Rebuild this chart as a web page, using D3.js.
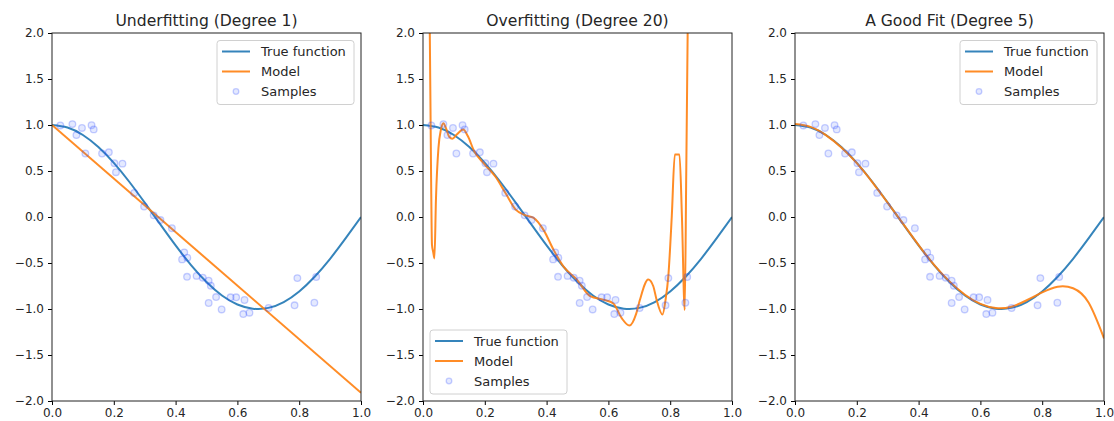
<!DOCTYPE html>
<html>
<head>
<meta charset="utf-8">
<script src="https://cdnjs.cloudflare.com/ajax/libs/d3/7.8.5/d3.min.js"></script>
<style>
  body { margin: 0; background: #fff; }
  svg { font-family: "DejaVu Sans", sans-serif; }
</style>
</head>
<body>
<svg id="chart" width="1114" height="421"></svg>
<script>
// ---- data ----
var titles = ["Underfitting (Degree 1)", "Overfitting (Degree 20)", "A Good Fit (Degree 5)"]
var xTicks = [0, 0.2, 0.4, 0.6, 0.8, 1.0]
var yTicks = [-2, -1.5, -1, -0.5, 0, 0.5, 1, 1.5, 2]

var trueX = [0, 0.05, 0.1, 0.15, 0.2, 0.25, 0.3, 0.35, 0.4, 0.45, 0.5, 0.55, 0.6, 0.65, 0.7, 0.75, 0.8, 0.85, 0.9, 0.95, 1.0]
var trueY = [1.0, 0.972, 0.891, 0.76, 0.588, 0.383, 0.156, -0.078, -0.309, -0.522, -0.707, -0.853, -0.951, -0.996, -0.988, -0.924, -0.809, -0.649, -0.454, -0.233, 0.0]

var sampleX = [0.027, 0.066, 0.079, 0.097, 0.108, 0.128, 0.135, 0.162, 0.184, 0.202, 0.207, 0.228, 0.266, 0.298, 0.329,
               0.351, 0.388, 0.428, 0.421, 0.438, 0.437, 0.468, 0.488, 0.507, 0.514, 0.507, 0.531, 0.549, 0.578, 0.596,
               0.623, 0.619, 0.639, 0.701, 0.785, 0.794, 0.849, 0.855]
var sampleY = [0.995, 1.01, 0.89, 0.968, 0.69, 0.998, 0.952, 0.69, 0.703, 0.585, 0.487, 0.58, 0.262, 0.114, 0.018,
               -0.033, -0.122, -0.385, -0.461, -0.443, -0.65, -0.64, -0.66, -0.693, -0.747, -0.935, -0.87, -1.005, -0.873, -0.873,
               -0.902, -1.055, -1.04, -0.989, -0.96, -0.664, -0.932, -0.652]

var fit1X = [0, 1]
var fit1Y = [1.0, -1.91]

var fit20X = [0, 0.012, 0.018, 0.022, 0.026, 0.029, 0.033, 0.037, 0.042, 0.05, 0.058, 0.066, 0.075, 0.085, 0.095, 0.11,
              0.13, 0.145, 0.165, 0.2, 0.234, 0.267, 0.3, 0.33, 0.358, 0.39, 0.423, 0.455, 0.498, 0.541, 0.584, 0.616,
              0.643, 0.668, 0.69, 0.702, 0.729, 0.745, 0.756, 0.775, 0.785, 0.794, 0.805, 0.815, 0.83, 0.838, 0.847,
              0.852, 0.858, 0.865]
var fit20Y = [4.0, 3.0, 2.5, 2.0, 0.5, -0.3, -0.38, -0.45, 0.2, 0.75, 0.95, 1.02, 0.96, 0.87, 0.85, 0.9,
              0.95, 0.88, 0.72, 0.57, 0.44, 0.26, 0.08, 0.02, -0.01, -0.14, -0.36, -0.54, -0.68, -0.86, -0.9, -0.94,
              -1.1, -1.18, -1.05, -0.9, -0.68, -0.75, -0.9, -1.06, -0.9, -0.64, 0.0, 0.68, 0.68, 0.0, -1.01,
              0.5, 2.5, 5.0]

var fit5X = [0, 0.05, 0.1, 0.15, 0.2, 0.25, 0.3, 0.35, 0.4, 0.45, 0.5, 0.55, 0.6, 0.65, 0.7, 0.75, 0.8, 0.85, 0.9, 0.95, 1.0]
var fit5Y = [1.01, 0.98, 0.89, 0.755, 0.585, 0.38, 0.155, -0.075, -0.305, -0.52, -0.70, -0.845, -0.945, -0.99, -0.975, -0.905, -0.82, -0.758, -0.775, -0.93, -1.32]

var models = [
  {x: fit1X, y: fit1Y, curve: d3.curveLinear, legend: "tr"},
  {x: fit20X, y: fit20Y, curve: d3.curveMonotoneX, legend: "bl"},
  {x: fit5X, y: fit5Y, curve: d3.curveNatural, legend: "tr"}
]

var svg = d3.select("#chart")
var lefts = [52, 423, 795],
    pw = 309,
    plotTop = 33,
    plotBottom = 401

var blue = "#1f77b4", orange = "#ff7f0e"
var fmt = d => d3.format(".1f")(d).replace("-", "\u2212")

models.forEach(function(m, i) {
  var x = d3.scaleLinear().domain([0, 1]).range([lefts[i], lefts[i] + pw])
  var y = d3.scaleLinear().domain([-2, 2]).range([plotBottom, plotTop])

  var g = svg.append("g")

  g.append("clipPath").attr("id", "clip" + i)
    .append("rect")
    .attr("x", lefts[i]).attr("y", plotTop)
    .attr("width", pw).attr("height", plotBottom - plotTop)

  var line = d3.line().x(d => x(d[0])).y(d => y(d[1]))

  var plot = g.append("g").attr("clip-path", `url(#clip${i})`)

  plot.append("path")
    .datum(d3.zip(trueX, trueY))
    .attr("fill", "none").attr("stroke", blue).attr("stroke-width", 2).attr("stroke-opacity", 0.9)
    .attr("d", line.curve(d3.curveNatural))

  plot.append("path")
    .datum(d3.zip(m.x, m.y))
    .attr("fill", "none").attr("stroke", orange).attr("stroke-width", 2).attr("stroke-opacity", 0.9)
    .attr("stroke-linejoin", "round")
    .attr("d", line.curve(m.curve))

  plot.selectAll("circle")
    .data(d3.zip(sampleX, sampleY))
    .enter().append("circle")
    .attr("cx", d => x(d[0]))
    .attr("cy", d => y(d[1]))
    .attr("r", 3.3)
    .attr("fill", "#4060ff").attr("fill-opacity", 0.14)
    .attr("stroke", "#2040ff").attr("stroke-opacity", 0.25).attr("stroke-width", 1.3)

  // axes
  g.append("g")
    .attr("transform", `translate(0,${plotBottom})`)
    .call(d3.axisBottom(x).tickValues(xTicks).tickFormat(fmt).tickSize(4).tickPadding(3).tickSizeOuter(0))
  g.append("g")
    .attr("transform", `translate(${lefts[i]},0)`)
    .call(d3.axisLeft(y).tickValues(yTicks).tickFormat(fmt).tickSize(4).tickPadding(4).tickSizeOuter(0))
  g.selectAll(".tick text").attr("font-size", 12).attr("font-family", "DejaVu Sans").attr("fill", "#262626")
  g.selectAll(".domain").remove()

  g.append("rect")
    .attr("x", lefts[i]).attr("y", plotTop)
    .attr("width", pw).attr("height", plotBottom - plotTop)
    .attr("fill", "none").attr("stroke", "#222").attr("stroke-width", 1)

  g.append("text")
    .attr("x", lefts[i] + pw / 2).attr("y", 25.5)
    .attr("text-anchor", "middle")
    .attr("font-size", 15.6).attr("fill", "#262626")
    .text(titles[i])

  // legend
  var lw = 137, lh = 64
  var lx = m.legend == "tr" ? lefts[i] + pw - lw - 7 : lefts[i] + 7
  var ly = m.legend == "tr" ? plotTop + 7.5 : plotBottom - lh - 7
  var leg = g.append("g").attr("transform", `translate(${lx},${ly})`)
  leg.append("rect")
    .attr("width", lw).attr("height", lh).attr("rx", 3)
    .attr("fill", "white").attr("fill-opacity", 0.8)
    .attr("stroke", "#d0d0d0").attr("stroke-width", 1)
  var items = [["True function", blue], ["Model", orange], ["Samples", null]]
  items.forEach(function(it, k) {
    var cy = 11 + k * 20
    if (it[1]) {
      leg.append("line").attr("x1", 5).attr("x2", 33).attr("y1", cy).attr("y2", cy)
        .attr("stroke", it[1]).attr("stroke-width", 2).attr("stroke-opacity", 0.9)
    } else {
      leg.append("circle").attr("cx", 19).attr("cy", cy).attr("r", 2.8)
        .attr("fill", "#4060ff").attr("fill-opacity", 0.14)
        .attr("stroke", "#2040ff").attr("stroke-opacity", 0.25).attr("stroke-width", 1.3)
    }
    leg.append("text").attr("x", 44).attr("y", cy).attr("dy", "0.36em")
      .attr("font-size", 13).attr("fill", "#262626").text(it[0])
  })
})
</script>
</body>
</html>
